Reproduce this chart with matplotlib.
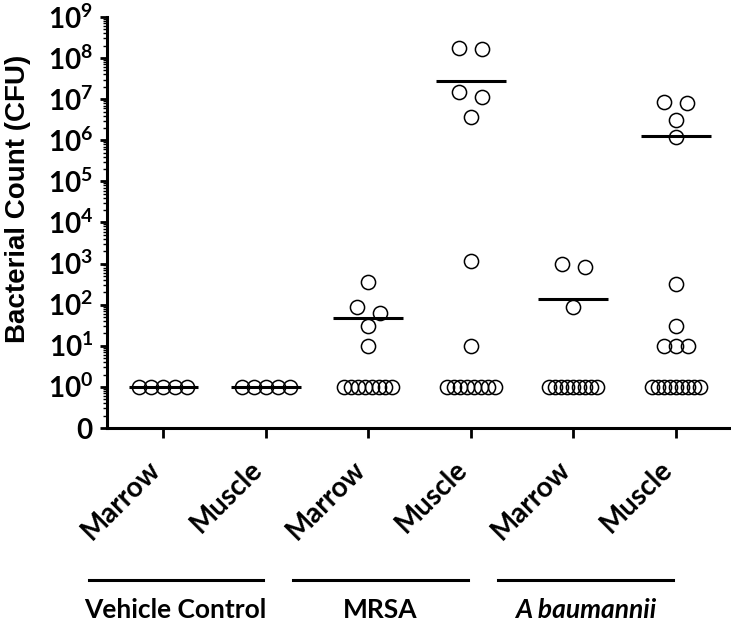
import numpy as np
import matplotlib
matplotlib.use('Agg')
import matplotlib.pyplot as plt
from matplotlib import transforms
from matplotlib.ticker import LogLocator, NullFormatter

plt.rcParams['mathtext.fontset'] = 'custom'
plt.rcParams['mathtext.rm'] = 'Lato'
plt.rcParams['mathtext.bf'] = 'Lato:bold'

# data (CFU, values of 1 = no growth baseline)
categories = ['Marrow', 'Muscle', 'Marrow', 'Muscle', 'Marrow', 'Muscle']
groups = ['Vehicle Control', 'MRSA', 'A baumannii']

vc_marrow = [1, 1, 1, 1, 1]
vc_muscle = [1, 1, 1, 1, 1]
mrsa_marrow = [350, 88, 63, 30, 10] + [1] * 8
mrsa_muscle = [1.8e8, 1.65e8, 1.5e7, 1.1e7, 3.6e6, 1150, 10] + [1] * 8
ab_marrow = [980, 830, 88] + [1] * 9
ab_muscle = [8.5e6, 8.0e6, 3.1e6, 1.2e6, 320, 30, 10, 10, 10] + [1] * 9

series = [vc_marrow, vc_muscle, mrsa_marrow, mrsa_muscle, ab_marrow, ab_muscle]
means = [1, 1, 48, 2.8e7, 140, 1.25e6]

ytick_vals = [0.1] + [10.0 ** k for k in range(10)]
ytick_labels = [r'$\mathbf{0}$'] + [r'$\mathbf{10^{%d}}$' % k for k in range(10)]


def spread(vals, px_dec, diam=15):
    # put points of similar height in one row and spread the row sideways
    vals = np.asarray(vals, dtype=float)
    ypx = np.log10(vals) * px_dec
    order = np.argsort(-vals, kind='stable')
    rows = []
    for i in order:
        if rows and ypx[rows[-1][0]] - ypx[i] < diam * 0.9:
            rows[-1].append(i)
        else:
            rows.append([i])
    off = np.zeros(len(vals))
    for r in rows:
        n = len(r)
        if n > 1:
            step = 23 if n == 2 else max(6, min(12, 48 / (n - 1)))
            for k, i in enumerate(r):
                off[i] = (k - (n - 1) / 2) * step
    return off


fig = plt.figure(figsize=(7.31, 6.21), dpi=100)
ax = fig.add_axes([107 / 731, 1 - 428 / 621, 622 / 731, 411 / 621])
ax.set_yscale('log')
ax.set_ylim(0.1, 1e9)
ax.set_xlim(-0.55, 5.52)

bbox = ax.get_window_extent()
px_dec = bbox.height / 10.0
px_unit = bbox.width / (5.52 + 0.55)

for i, vals in enumerate(series):
    off = spread(vals, px_dec)
    ax.plot(i + off / px_unit, vals, 'o', mfc='none', mec='black', ms=10.2,
            mew=1.1, clip_on=False, zorder=3)
    ax.hlines(means[i], i - 0.34, i + 0.34, color='black', lw=2.2, zorder=2)

for s in ['top', 'right']:
    ax.spines[s].set_visible(False)
for s in ['left', 'bottom']:
    ax.spines[s].set_linewidth(2.2)

ax.set_yticks(ytick_vals)
ax.set_yticklabels(ytick_labels, fontsize=20)
ax.yaxis.set_minor_locator(LogLocator(base=10, subs=np.arange(2, 10), numticks=30))
ax.yaxis.set_minor_formatter(NullFormatter())
ax.tick_params(axis='y', which='major', length=5, width=2, pad=5)
ax.tick_params(axis='y', which='minor', length=3, width=1)

ax.set_xticks(range(len(categories)))
ax.set_xticklabels(categories, rotation=45, ha='right', va='top',
                   rotation_mode='anchor', fontsize=20, fontweight='bold',
                   family='Lato')
ax.tick_params(axis='x', length=7, width=2, pad=13)
shift = transforms.ScaledTranslation(-12 / 72, 0, fig.dpi_scale_trans)
for lab in ax.get_xticklabels():
    lab.set_transform(lab.get_transform() + shift)

trans = transforms.blended_transform_factory(ax.transData, ax.transAxes)
for g, name in enumerate(groups):
    x0, x1 = 2 * g - 0.73, 2 * g + 0.97
    ax.plot([x0, x1], [-0.37, -0.37], color='black', lw=2.2,
            transform=trans, clip_on=False)
    ax.text((x0 + x1) / 2, -0.443, name, transform=trans, ha='center',
            va='center', fontsize=19, fontweight='bold', family='Lato',
            style='italic' if name == 'A baumannii' else 'normal')

fig.text(18 / 731, 1 - 199 / 621, 'Bacterial Count (CFU)', rotation=90,
         ha='center', va='center', fontsize=20, fontweight='bold',
         family='Liberation Sans')

fig.savefig('out.png', dpi=100)
